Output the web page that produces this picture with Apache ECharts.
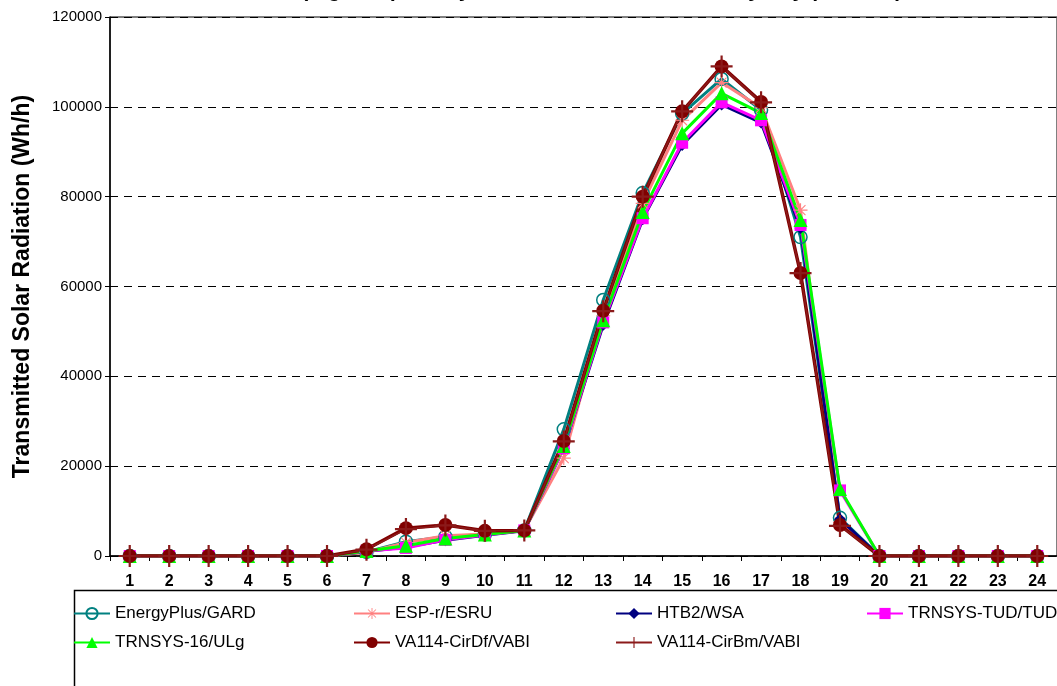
<!DOCTYPE html>
<html>
<head>
<meta charset="utf-8">
<style>
  html, body { margin: 0; padding: 0; background: #fff; }
  #main { width: 1057px; height: 686px; }
</style>
</head>
<body>
<div id="main"></div>
<script src="https://cdn.jsdelivr.net/npm/echarts@6/dist/echarts.min.js"></script>
<script>
var hours = ['1','2','3','4','5','6','7','8','9','10','11','12','13','14','15','16','17','18','19','20','21','22','23','24'];

var energyPlus = [0,0,0,0,0,0, 900, 3200, 4300, 4800, 5700, 28200, 57000, 80800, 98500, 106200, 99300, 71000, 8500, 0,0,0,0,0];
var espR       = [0,0,0,0,0,0, 800, 3000, 4500, 4900, 5700, 21800, 53500, 78500, 97000, 105400, 99800, 77000, 7500, 0,0,0,0,0];
var htb2       = [0,0,0,0,0,0, 1000, 2000, 3500, 4600, 5600, 24000, 51500, 75000, 91500, 100500, 96500, 73000, 8200, 0,0,0,0,0];
var trnsysTud  = [0,0,0,0,0,0, 1100, 1800, 3600, 4700, 5700, 24000, 52000, 75200, 92000, 101000, 97000, 73700, 14600, 0,0,0,0,0];
var trnsys16   = [0,0,0,0,0,0, 1100, 2300, 3900, 4800, 5700, 24500, 52500, 76600, 94100, 103000, 98600, 74800, 14900, 0,0,0,0,0];
var vaCirDf    = [0,0,0,0,0,0, 1500, 6200, 6900, 5600, 5700, 25600, 54600, 80000, 99000, 109000, 101100, 63000, 6900, 0,0,0,0,0];
var vaCirBm    = [0,0,0,0,0,0, 1400, 6000, 6800, 5600, 5700, 25500, 54500, 80000, 99000, 109000, 101000, 63000, 6700, 0,0,0,0,0];

var plusPath = 'path://M9,0h2v20h-2z M0,9h20v2h-20z';
var starPath = 'path://M9.2,0h1.6v20h-1.6z M0,9.2h20v1.6h-20z M2.4,3.5 L3.5,2.4 L17.6,16.5 L16.5,17.6z M16.5,2.4 L17.6,3.5 L3.5,17.6 L2.4,16.5z';

var font = '"Liberation Sans", Arial, sans-serif';

var myChart = echarts.init(document.getElementById('main'));

function lineSeries(name, data, color, symbol, size, width, extra) {
  var s = {
    name: name,
    type: 'line',
    data: data,
    symbol: symbol,
    symbolSize: size,
    showAllSymbol: true,
    lineStyle: { color: color, width: width },
    itemStyle: { color: color, borderColor: color, borderWidth: 0 },
    emphasis: { disabled: true },
    animation: false
  };
  if (extra) Object.assign(s, extra);
  return s;
}

var legendText = { fontFamily: font, fontSize: 17, color: '#000' };
function legendCol(left, names) {
  return {
    orient: 'vertical',
    left: left,
    top: 600,
    itemWidth: 36,
    itemHeight: 14,
    itemGap: 12,
    textStyle: legendText,
    data: names
  };
}

myChart.setOption({
  backgroundColor: '#fff',
  animation: false,
  title: {
    text: 'Case 2 (Sigmoid) Hourly Transmitted Solar, Clear Sky Day (June 21)',
    left: 560,
    textAlign: 'center',
    top: -24,
    textStyle: { fontFamily: font, fontSize: 21, fontWeight: 'bold', color: '#000' }
  },
  grid: {
    left: 110,
    top: 17,
    width: 953,
    height: 539,
    show: true,
    borderColor: '#000',
    borderWidth: 1,
    backgroundColor: 'transparent'
  },
  legend: [
    legendCol(68, ['EnergyPlus/GARD', 'TRNSYS-16/ULg']),
    legendCol(348, ['ESP-r/ESRU', 'VA114-CirDf/VABI']),
    legendCol(610, ['HTB2/WSA', 'VA114-CirBm/VABI']),
    legendCol(861, ['TRNSYS-TUD/TUD'])
  ],
  graphic: [{
    type: 'rect',
    left: 72,
    top: 588,
    shape: { width: 1000, height: 110 },
    style: { fill: 'none', stroke: '#000', lineWidth: 1.5 },
    silent: true
  }],
  xAxis: {
    type: 'category',
    data: hours,
    boundaryGap: true,
    axisLine: { lineStyle: { color: '#000', width: 1.5 } },
    axisTick: { show: true, length: 5, lineStyle: { color: '#000' } },
    axisLabel: { fontFamily: font, fontSize: 16, fontWeight: 'bold', color: '#000', margin: 18 }
  },
  yAxis: {
    type: 'value',
    min: 0,
    max: 120000,
    interval: 20000,
    name: 'Transmitted Solar Radiation (Wh/h)',
    nameLocation: 'middle',
    nameGap: 76,
    nameTextStyle: { fontFamily: font, fontSize: 23, fontWeight: 'bold', color: '#000' },
    axisLine: { show: true, lineStyle: { color: '#000', width: 1.5 } },
    axisTick: { show: true, length: 5, lineStyle: { color: '#000' } },
    axisLabel: { fontFamily: font, fontSize: 15, color: '#000', margin: 8, formatter: function (v) { return String(v); } },
    splitLine: { show: true, lineStyle: { color: '#000', type: [8, 6], width: 1 } }
  },
  series: [
    lineSeries('EnergyPlus/GARD', energyPlus, '#008080', 'circle', 13, 3, { itemStyle: { color: 'rgba(255,255,255,0)', borderColor: '#008080', borderWidth: 1.5 } }),
    lineSeries('ESP-r/ESRU', espR, '#ff8080', starPath, 14, 3),
    lineSeries('HTB2/WSA', htb2, '#000080', 'diamond', 12, 3),
    lineSeries('TRNSYS-TUD/TUD', trnsysTud, '#ff00ff', 'rect', 12, 3),
    lineSeries('TRNSYS-16/ULg', trnsys16, '#00ff00', 'triangle', 14, 3),
    lineSeries('VA114-CirDf/VABI', vaCirDf, '#800000', 'circle', 14, 3.5),
    lineSeries('VA114-CirBm/VABI', vaCirBm, '#8b1a1a', plusPath, 22, 1.5)
  ]
});
</script>
</body>
</html>
